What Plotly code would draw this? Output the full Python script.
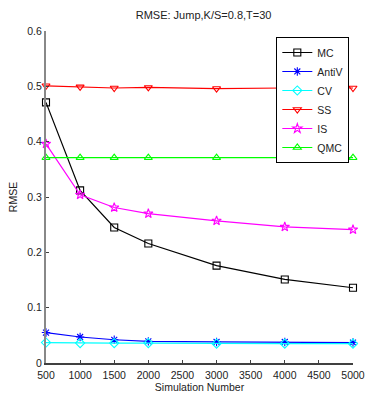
import plotly.graph_objects as go

# Simulation sizes on the x axis
sim_number = [500, 1000, 1500, 2000, 3000, 4000, 5000]

# RMSE of each pricing method
rmse_mc = [0.471, 0.312, 0.245, 0.216, 0.176, 0.151, 0.136]
rmse_antiv = [0.055, 0.047, 0.042, 0.039, 0.038, 0.038, 0.037]
rmse_cv = [0.037, 0.036, 0.036, 0.036, 0.035, 0.035, 0.035]
rmse_ss = [0.501, 0.499, 0.497, 0.498, 0.496, 0.497, 0.497]
rmse_is = [0.396, 0.304, 0.281, 0.270, 0.257, 0.246, 0.241]
rmse_qmc = [0.371, 0.371, 0.371, 0.371, 0.371, 0.371, 0.371]

x_ticks = [500, 1000, 1500, 2000, 2500, 3000, 3500, 4000, 4500, 5000]
y_ticks = [0, 0.1, 0.2, 0.3, 0.4, 0.5, 0.6]
y_tick_text = ["0", "0.1", "0.2", "0.3", "0.4", "0.5", "0.6"]

FONT = "Liberation Sans, Arial, sans-serif"

series = [
    ("MC", rmse_mc, "#000000", "square-open"),
    ("AntiV", rmse_antiv, "#0000ff", "asterisk-open"),
    ("CV", rmse_cv, "#00ffff", "diamond-open"),
    ("SS", rmse_ss, "#ff0000", "triangle-down-open"),
    ("IS", rmse_is, "#ff00ff", "star-open"),
    ("QMC", rmse_qmc, "#00ff00", "triangle-up-open"),
]

fig = go.Figure()
for name, vals, color, symbol in series:
    fig.add_trace(go.Scatter(
        x=sim_number, y=vals, name=name, mode="lines+markers",
        line=dict(color=color, width=1.2),
        marker=dict(symbol=symbol, size=7, color=color,
                    line=dict(color=color, width=1.1)),
        cliponaxis=False,
    ))

fig.update_layout(
    width=377, height=403,
    margin=dict(l=41, r=12, t=31, b=34),
    paper_bgcolor="white", plot_bgcolor="white",
    font=dict(family=FONT, size=10.5, color="#222222"),
    title=dict(text="RMSE: Jump,K/S=0.8,T=30", x=0.54, xanchor="center",
               y=0.962, yanchor="middle", font=dict(size=11, family=FONT)),
    showlegend=True,
    legend=dict(x=0.988, y=0.982, xanchor="right", yanchor="top",
                bgcolor="white", bordercolor="#000000", borderwidth=1,
                font=dict(size=10.5, family=FONT), tracegroupgap=0,
                itemwidth=30),
)

fig.update_xaxes(
    range=[500, 5000], tickvals=x_ticks, showgrid=False, zeroline=False,
    showline=True, linecolor="#404040", linewidth=1.5,
    ticks="inside", ticklen=3, tickcolor="#404040",
    tickfont=dict(size=10.5, family=FONT), ticklabelstandoff=2,
    title=dict(text="Simulation Number", font=dict(size=10.5, family=FONT), standoff=2),
)
fig.update_yaxes(
    range=[0, 0.6], tickvals=y_ticks, ticktext=y_tick_text, showgrid=False,
    zeroline=False, showline=True, linecolor="#888888", linewidth=2,
    ticks="inside", ticklen=3, tickcolor="#404040",
    tickfont=dict(size=10.5, family=FONT),
    title=dict(text="RMSE", font=dict(size=10.5, family=FONT), standoff=8),
)

fig.write_html("out.html")
